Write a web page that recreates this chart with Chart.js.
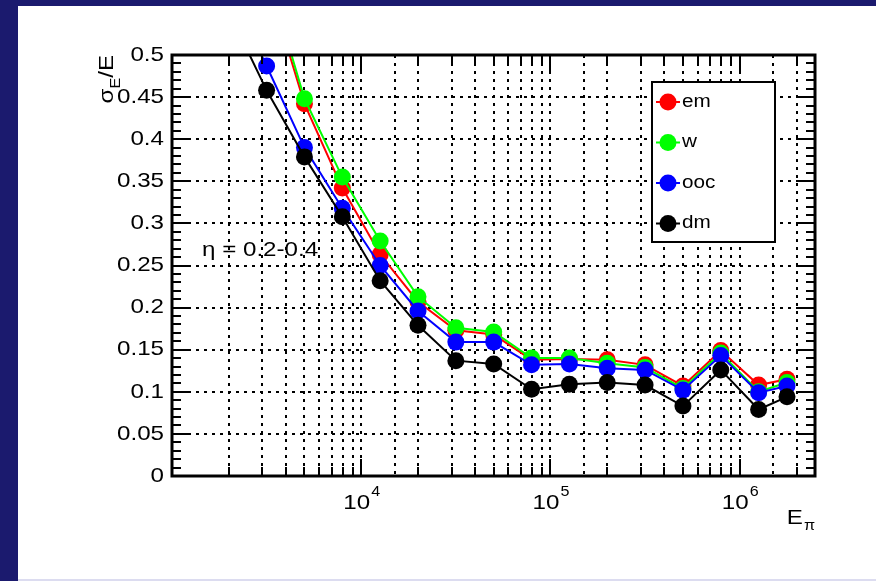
<!DOCTYPE html>
<html>
<head>
<meta charset="utf-8">
<script src="https://cdn.jsdelivr.net/npm/chart.js@4"></script>
<style>
  html, body { margin: 0; padding: 0; background: #fff; }
</style>
</head>
<body>
<canvas id="resolution-graphic" width="876" height="581"></canvas>
<script>
// pion energies (GeV), one point every 0.2 decade, last one 0.15
var energies = [2000, 3162, 5012, 7943, 12589, 19953, 31623, 50119, 79433, 125893, 199526, 316228, 501187, 794328, 1258925, 1778279];

// sigma_E / E for each calibration
var emRes  = [0.75, 0.59, 0.442, 0.342, 0.263, 0.207, 0.173, 0.168, 0.138, 0.139, 0.138, 0.132, 0.107, 0.149, 0.108, 0.115];
var wRes   = [0.76, 0.60, 0.448, 0.355, 0.279, 0.213, 0.176, 0.171, 0.140, 0.140, 0.134, 0.129, 0.104, 0.146, 0.100, 0.111];
var oocRes = [0.58, 0.487, 0.390, 0.318, 0.250, 0.196, 0.159, 0.159, 0.132, 0.133, 0.128, 0.126, 0.102, 0.143, 0.099, 0.107];
var dmRes  = [0.551, 0.458, 0.379, 0.308, 0.232, 0.179, 0.137, 0.133, 0.103, 0.109, 0.111, 0.108, 0.083, 0.126, 0.079, 0.094];

var seriesNames  = ['em', 'w', 'ooc', 'dm'];
var seriesColors = ['#ff0000', '#00ff00', '#0000ff', '#000000'];

var xMin = 1000, xMax = 2.5e6;
var yMin = 0, yMax = 0.5, yStep = 0.05;
var xLabelExponents = [4, 5, 6];

var navy = '#1b1a6e';
var fontName = '"Liberation Sans", Arial, sans-serif';
var sx = 1.15; // the original text is a bit wide

function toPoints(values) {
    return values.map(function (v, i) { return { x: energies[i], y: v }; });
}

function textWidth(c, txt, size) {
    c.font = size + 'px ' + fontName;
    return c.measureText(txt).width * sx;
}

function wideText(c, txt, x, y, size, align) {
    c.save();
    c.font = size + 'px ' + fontName;
    c.translate(x, y);
    c.scale(sx, 1);
    c.textAlign = align || 'left';
    c.fillText(txt, 0, 0);
    c.restore();
}

var frame = {
    id: 'frame',
    beforeDraw: function (chart) {
        var c = chart.ctx;
        c.save();
        c.fillStyle = '#ffffff';
        c.fillRect(0, 0, chart.width, chart.height);
        c.fillStyle = navy;
        c.fillRect(0, 0, chart.width, 6);
        c.fillRect(0, 0, 18, chart.height);
        c.fillStyle = '#dcdcf0';
        c.fillRect(18, 579, chart.width - 18, 2);
        c.restore();
    },
    afterDraw: function (chart) {
        var c = chart.ctx;
        var a = chart.chartArea;
        var xs = chart.scales.x, ys = chart.scales.y;
        c.save();
        c.strokeStyle = '#000';
        c.fillStyle = '#000';
        c.lineWidth = 2;

        // ticks, pointing inwards on all four sides
        c.beginPath();
        for (var d = 3; d <= 6; d++) {
            for (var m = 1; m <= 9; m++) {
                var v = m * Math.pow(10, d);
                if (v < xMin || v > xMax) continue;
                var px = Math.round(xs.getPixelForValue(v));
                var len = m === 1 ? 17 : 9;
                c.moveTo(px, a.bottom); c.lineTo(px, a.bottom - len);
                c.moveTo(px, a.top); c.lineTo(px, a.top + len);
            }
        }
        for (var i = 0; i <= 50; i++) {
            var py = Math.round(ys.getPixelForValue(i * 0.01));
            var l = i % 5 === 0 ? 17 : 9;
            c.moveTo(a.left, py); c.lineTo(a.left + l, py);
            c.moveTo(a.right, py); c.lineTo(a.right - l, py);
        }
        c.stroke();

        c.lineWidth = 3;
        c.strokeRect(a.left, a.top, a.right - a.left, a.bottom - a.top);

        // y labels
        c.textBaseline = 'middle';
        ys.ticks.forEach(function (t) {
            var lbl = String(Math.round(t.value * 100) / 100);
            wideText(c, lbl, a.left - 8, ys.getPixelForValue(t.value), 21, 'right');
        });

        // x labels 10^n
        c.textBaseline = 'alphabetic';
        xLabelExponents.forEach(function (e) {
            var px = xs.getPixelForValue(Math.pow(10, e));
            var w1 = textWidth(c, '10', 21), w2 = textWidth(c, String(e), 14);
            var x0 = px - (w1 + w2) / 2;
            wideText(c, '10', x0, 509, 21);
            wideText(c, String(e), x0 + w1 + 1, 496, 14);
        });

        // x title E_pi
        var wpi = textWidth(c, '\u03c0', 14);
        var wE = textWidth(c, 'E', 21);
        wideText(c, 'E', a.right - wpi - wE - 1, 524, 21);
        wideText(c, '\u03c0', a.right - wpi, 530, 14);

        // y title sigma_E/E, rotated
        c.save();
        c.translate(113, a.top);
        c.rotate(-Math.PI / 2);
        var p1 = textWidth(c, '\u03c3', 21), p2 = textWidth(c, 'E', 14);
        var p3 = textWidth(c, '/E', 21);
        var x = -(p1 + p2 + p3);
        wideText(c, '\u03c3', x, 0, 21); x += p1;
        wideText(c, 'E', x, 7, 14); x += p2;
        wideText(c, '/E', x, 0, 21);
        c.restore();

        // eta range
        wideText(c, '\u03b7 = 0.2-0.4', 202, 256, 21);

        // legend box
        c.lineWidth = 2;
        c.fillStyle = '#fff';
        c.fillRect(652, 82, 123, 160);
        c.strokeRect(652, 82, 123, 160);
        c.textBaseline = 'middle';
        seriesNames.forEach(function (name, k) {
            var ly = 102 + k * 40.5;
            c.strokeStyle = seriesColors[k];
            c.beginPath();
            c.moveTo(656, ly); c.lineTo(680, ly);
            c.stroke();
            c.fillStyle = seriesColors[k];
            c.beginPath();
            c.arc(668, ly, 8.5, 0, Math.PI * 2);
            c.fill();
            c.fillStyle = '#000';
            wideText(c, name, 682, ly, 18);
        });
        c.restore();
    }
};

var allRes = [emRes, wRes, oocRes, dmRes];

var ctx = document.getElementById('resolution-graphic').getContext('2d');

var myLineChart = new Chart(ctx, {
    type: 'line',
    data: {
        datasets: allRes.map(function (vals, k) {
            return {
                label: seriesNames[k],
                data: toPoints(vals),
                borderColor: seriesColors[k],
                backgroundColor: seriesColors[k],
                pointBackgroundColor: seriesColors[k],
                pointBorderColor: seriesColors[k],
                borderWidth: 2,
                pointRadius: 8.5,
                pointBorderWidth: 0,
                tension: 0,
                fill: false,
                order: allRes.length - k
            };
        })
    },
    options: {
        responsive: false,
        animation: false,
        devicePixelRatio: 1,
        layout: { padding: { left: 172, top: 55, right: 61, bottom: 105 } },
        plugins: {
            legend: { display: false },
            tooltip: { enabled: false }
        },
        scales: {
            x: {
                type: 'logarithmic',
                min: xMin,
                max: xMax,
                ticks: { display: false, autoSkip: false },
                grid: { color: '#000', lineWidth: 2, drawTicks: false },
                border: { display: false, dash: [3, 5] },
                afterFit: function (s) { s.height = 0; }
            },
            y: {
                min: yMin,
                max: yMax,
                ticks: { display: false, stepSize: yStep },
                grid: { color: '#000', lineWidth: 2, drawTicks: false },
                border: { display: false, dash: [3, 5] },
                afterFit: function (s) { s.width = 0; }
            }
        }
    },
    plugins: [frame]
});
</script>
</body>
</html>
